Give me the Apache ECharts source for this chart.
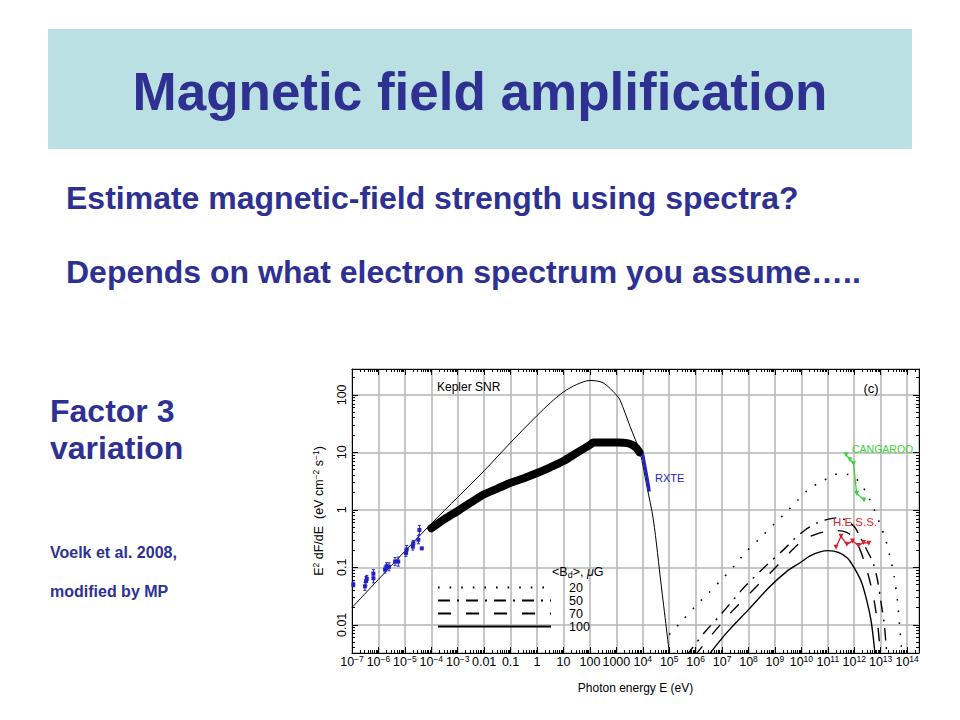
<!DOCTYPE html>
<html><head><meta charset="utf-8">
<script src="https://cdn.jsdelivr.net/npm/echarts@6/dist/echarts.min.js"></script>
<style>html,body{margin:0;padding:0;background:#fff}#c{width:960px;height:720px}</style>
</head><body><div id="c"></div>
<script>
// ---------- values (log10 of E [eV] and of E^2 dF/dE [eV cm^-2 s^-1]) ----------
const xMinExp = -7;
const xTickText = ['10^-7','10^-6','10^-5','10^-4','10^-3','0.01','0.1','1','10','100','1000',
  '10^4','10^5','10^6','10^7','10^8','10^9','10^10','10^11','10^12','10^13','10^14'];
const yMinExp = -2;
const yTickText = ['0.01','0.1','1','10','100'];

// synchrotron model (thin solid)
const syncLogE = [-7, -6, -5, -4, -3, -2, -1, 0, 0.5, 1, 1.5, 2, 2.5, 3.0, 3.14, 3.52, 3.9, 4.15, 4.4, 4.7, 5.02];
const syncLogF = [-1.70, -1.21, -0.72, -0.24, 0.22, 0.68, 1.17, 1.64, 1.86, 2.05, 2.18, 2.25, 2.21, 2.0, 1.91, 1.45, 0.99, 0.42, -0.17, -1.32, -2.55];

// thick black band (X-ray spectrum)
const bandLogE = [-4, -3.5, -3, -2.5, -2, -1.5, -1, -0.5, 0, 0.5, 1, 1.5, 2, 2.13, 2.6, 3.1, 3.4, 3.6, 3.75, 3.88];
const bandLogF = [-0.32, -0.16, -0.02, 0.13, 0.27, 0.37, 0.47, 0.55, 0.64, 0.74, 0.85, 0.99, 1.13, 1.17, 1.17, 1.17, 1.16, 1.13, 1.08, 1.0];

// radio points with error bars (dex)
const radioLogE = [-6.95, -6.51, -6.47, -6.44, -6.19, -6.19, -5.75, -5.69, -5.60, -5.37, -5.25, -4.96, -4.93, -4.70, -4.68, -4.49, -4.45, -4.36];
const radioLogF = [-1.30, -1.33, -1.24, -1.20, -1.19, -1.11, -1.04, -0.98, -0.99, -0.90, -0.90, -0.75, -0.69, -0.64, -0.58, -0.52, -0.35, -0.67];
const radioErr  = [0.04, 0.07, 0.08, 0.06, 0.08, 0.07, 0.06, 0.06, 0.07, 0.07, 0.08, 0.06, 0.07, 0.06, 0.05, 0.07, 0.08, 0];

// RXTE
const rxteLogE = [4.0, 4.1, 4.18, 4.25];
const rxteLogF = [0.97, 0.72, 0.52, 0.32];

// CANGAROO
const cangLogE = [11.69, 11.84, 11.97, 12.09, 12.37];
const cangLogF = [0.96, 0.87, 0.81, 0.29, 0.17];

// H.E.S.S.
const hessLogE = [11.31, 11.50, 11.72, 11.94, 12.16, 12.35, 12.55];
const hessLogF = [-0.65, -0.46, -0.60, -0.54, -0.62, -0.57, -0.58];

// IC models for <B_d> = 20, 50, 70, 100 microGauss
const ic20LogE = [5.0, 5.47, 5.98, 6.48, 6.99, 7.43, 7.93, 8.44, 8.94, 9.45, 9.85, 10.33, 10.77, 11.15, 11.46, 11.81, 12.05, 12.28, 12.5, 12.76, 12.98, 13.17, 13.35, 13.51, 13.63, 13.72, 13.78, 13.82];
const ic20LogF = [-2.17, -1.94, -1.68, -1.45, -1.21, -0.99, -0.72, -0.49, -0.26, -0.03, 0.16, 0.38, 0.49, 0.59, 0.63, 0.61, 0.55, 0.43, 0.26, 0.0, -0.26, -0.49, -0.81, -1.16, -1.57, -2.03, -2.38, -2.6];
const ic50LogE = [5.63, 6.36, 6.99, 7.87, 8.69, 9.38, 9.75, 10.14, 10.58, 10.96, 11.33, 11.59, 12.0, 12.25, 12.5, 12.72, 12.88, 13.0, 13.13, 13.21, 13.24];
const ic50LogF = [-2.55, -2.12, -1.80, -1.33, -0.96, -0.67, -0.50, -0.35, -0.23, -0.17, -0.14, -0.16, -0.29, -0.50, -0.72, -0.93, -1.22, -1.57, -1.97, -2.38, -2.55];
const ic70LogE = [5.95, 6.67, 7.43, 8.31, 8.94, 9.65, 10.08, 10.52, 10.9, 11.33, 11.71, 11.98, 12.2, 12.4, 12.58, 12.75, 12.88, 12.97, 13.0];
const ic70LogF = [-2.55, -2.14, -1.74, -1.33, -1.04, -0.70, -0.52, -0.43, -0.38, -0.36, -0.39, -0.49, -0.67, -0.93, -1.22, -1.57, -1.97, -2.38, -2.55];
const ic100LogE = [6.45, 7.17, 7.99, 8.82, 9.45, 9.95, 10.33, 10.71, 11.02, 11.4, 11.75, 12.0, 12.27, 12.47, 12.63, 12.73, 12.79];
const ic100LogF = [-2.55, -2.14, -1.74, -1.33, -1.07, -0.92, -0.80, -0.73, -0.71, -0.74, -0.84, -1.01, -1.25, -1.57, -1.91, -2.26, -2.55];

const legendNames = ['20', '50', '70', '100'];

// ---------- build ----------
const P = v => Math.pow(10, v);
const pts = (le, lf) => le.map((e, i) => [P(e), P(lf[i])]);
const FONT = '"Liberation Sans", Arial, Helvetica, sans-serif';
const NAVY = '#2e3192';
const BLUE = '#2323c4';
const GREEN = '#3ad23a';
const RED = '#d81f2b';

function richLabel(s) {
  const m = s.match(/^10\^(-?\d+)$/);
  if (!m) return '{p|' + s + '}';
  return '{b|10}{s|' + m[1].replace('-', '\u2212') + '}';
}
function expIndex(v, minExp, n) {
  const l = Math.log10(v); const k = Math.round(l);
  if (Math.abs(l - k) > 1e-6) return -1;
  const i = k - minExp; return (i >= 0 && i < n) ? i : -1;
}

const tickCommon = {
  axisLine: { show: true, onZero: false, lineStyle: { color: '#000', width: 1 } },
  axisTick: { show: true, inside: true, length: 6, lineStyle: { color: '#000', width: 1 } },
  minorTick: { show: true, splitNumber: 9, length: 3, lineStyle: { color: '#000', width: 1 } },
};
const gridLine = { show: true, lineStyle: { color: '#b4b4b4', width: 1.5 } };

const xRange = { type: 'log', logBase: 10, min: P(-7), max: P(14.45), interval: 1 };
const yRange = { type: 'log', logBase: 10, min: P(-2.49), max: P(2.45) };

const option = {
  animation: false,
  backgroundColor: '#fff',
  grid: { left: 352, top: 369, width: 567, height: 284 },
  xAxis: [
    Object.assign({}, xRange, tickCommon, {
      position: 'bottom',
      splitLine: gridLine,
      name: 'Photon energy E (eV)', nameLocation: 'middle', nameGap: 29,
      nameTextStyle: { fontFamily: FONT, fontSize: 12, color: '#000' },
      axisLabel: {
        margin: 1, color: '#000', fontFamily: FONT,
        formatter: v => { const i = expIndex(v, xMinExp, xTickText.length); return i < 0 ? '' : richLabel(xTickText[i]); },
        rich: {
          b: { fontSize: 12.5, lineHeight: 14, verticalAlign: 'bottom', fontFamily: FONT, color: '#000' },
          p: { fontSize: 12.5, lineHeight: 14, padding: [3.5, 0, 0, 0], verticalAlign: 'bottom', fontFamily: FONT, color: '#000' },
          s: { fontSize: 8.5, lineHeight: 8.5, padding: [0, 0, 9, 0], verticalAlign: 'top', fontFamily: FONT, color: '#000' }
        }
      }
    }),
    Object.assign({}, xRange, tickCommon, {
      position: 'top', axisLabel: { show: false }, splitLine: { show: false }
    })
  ],
  yAxis: [
    Object.assign({}, yRange, tickCommon, {
      position: 'left',
      splitLine: gridLine,
      name: '{b|E}{s|2}{b| dF/dE  (eV cm}{s|\u22122}{b| s}{s|\u22121}{b|)}',
      nameLocation: 'middle', nameRotate: 90, nameGap: 19,
      nameTextStyle: {
        fontFamily: FONT, fontSize: 12, color: '#000',
        rich: {
          b: { fontSize: 12.5, lineHeight: 14, verticalAlign: 'bottom', fontFamily: FONT, color: '#000' },
          s: { fontSize: 8.5, lineHeight: 8.5, padding: [0, 0, 7, 0], verticalAlign: 'top', fontFamily: FONT, color: '#000' }
        }
      },
      axisLabel: {
        rotate: 90, margin: 4, color: '#000', fontFamily: FONT, fontSize: 12.5,
        formatter: v => { const i = expIndex(v, yMinExp, yTickText.length); return i < 0 ? '' : yTickText[i]; }
      }
    }),
    Object.assign({}, yRange, tickCommon, {
      position: 'right', axisLabel: { show: false }, splitLine: { show: false }
    })
  ],
  legend: {
    data: legendNames,
    orient: 'vertical', left: 437, top: 581,
    itemWidth: 113, itemHeight: 14, itemGap: 0, padding: 0,
    selectedMode: false,
    itemStyle: { opacity: 0 },
    textStyle: { fontFamily: FONT, fontSize: 12.5, color: '#000', padding: [0, 0, 0, 13] }
  },
  series: [
    { type: 'line', name: 'sync', data: pts(syncLogE, syncLogF), symbol: 'none', smooth: 0.3,
      lineStyle: { color: '#000', width: 1 }, z: 3 },
    { type: 'line', name: 'band', data: pts(bandLogE, bandLogF), symbol: 'none', smooth: 0.3,
      lineStyle: { color: '#000', width: 8, cap: 'round', join: 'round' }, z: 4 },
    { type: 'custom', name: 'radio',
      data: radioLogE.map((e, i) => [P(e), P(radioLogF[i]), P(radioLogF[i] - radioErr[i]), P(radioLogF[i] + radioErr[i])]),
      encode: { x: 0, y: 1 }, z: 5,
      renderItem: (params, api) => {
        const p = api.coord([api.value(0), api.value(1)]);
        const lo = api.coord([api.value(0), api.value(2)]);
        const hi = api.coord([api.value(0), api.value(3)]);
        const st = { stroke: BLUE, lineWidth: 1 };
        const ch = [{ type: 'rect', shape: { x: p[0] - 2, y: p[1] - 2, width: 4, height: 4 }, style: { fill: BLUE } }];
        if (Math.abs(hi[1] - lo[1]) > 0.5) {
          ch.push({ type: 'line', shape: { x1: p[0], y1: lo[1], x2: p[0], y2: hi[1] }, style: st });
          ch.push({ type: 'line', shape: { x1: p[0] - 1.5, y1: lo[1], x2: p[0] + 1.5, y2: lo[1] }, style: st });
          ch.push({ type: 'line', shape: { x1: p[0] - 1.5, y1: hi[1], x2: p[0] + 1.5, y2: hi[1] }, style: st });
        }
        return { type: 'group', children: ch };
      }
    },
    { type: 'line', name: 'RXTE', data: pts(rxteLogE, rxteLogF), symbol: 'none',
      lineStyle: { color: BLUE, width: 3 }, z: 5 },
    { type: 'line', name: 'CANGAROO', data: pts(cangLogE, cangLogF), symbol: 'triangle', symbolRotate: 180, symbolSize: 5,
      itemStyle: { color: GREEN }, lineStyle: { color: GREEN, width: 1.3 }, z: 5 },
    { type: 'line', name: 'H.E.S.S.', data: pts(hessLogE, hessLogF), symbol: 'triangle', symbolRotate: 180, symbolSize: 5,
      itemStyle: { color: RED }, lineStyle: { color: RED, width: 1.3 }, z: 5 },
    { type: 'line', name: '20', data: pts(ic20LogE, ic20LogF), symbol: 'none', smooth: 0.3, itemStyle: { color: '#000' },
      lineStyle: { color: '#000', width: 1.6, type: [1.6, 10] } },
    { type: 'line', name: '50', data: pts(ic50LogE, ic50LogF), symbol: 'none', smooth: 0.3, itemStyle: { color: '#000' },
      lineStyle: { color: '#000', width: 1.4, type: [12, 7, 2, 7] } },
    { type: 'line', name: '70', data: pts(ic70LogE, ic70LogF), symbol: 'none', smooth: 0.3, itemStyle: { color: '#000' },
      lineStyle: { color: '#000', width: 1.4, type: [13, 15] } },
    { type: 'line', name: '100', data: pts(ic100LogE, ic100LogF), symbol: 'none', smooth: 0.3, itemStyle: { color: '#000' },
      lineStyle: { color: '#000', width: 1.4 } }
  ],
  graphic: [
    { type: 'rect', z: -10, shape: { x: 48, y: 29, width: 864, height: 120 }, style: { fill: '#bbe0e3' } },
    { type: 'text', x: 480, y: 91, style: { text: 'Magnetic field amplification', fill: NAVY, font: 'bold 53px ' + FONT, textAlign: 'center', textVerticalAlign: 'middle' } },
    { type: 'text', x: 66, y: 198, style: { text: 'Estimate magnetic-field strength using spectra?', fill: NAVY, font: 'bold 32px ' + FONT, textAlign: 'left', textVerticalAlign: 'middle' } },
    { type: 'text', x: 66, y: 272, style: { text: 'Depends on what electron spectrum you assume\u2026..', fill: NAVY, font: 'bold 32px ' + FONT, textAlign: 'left', textVerticalAlign: 'middle' } },
    { type: 'text', x: 50, y: 411, style: { text: 'Factor 3', fill: NAVY, font: 'bold 32px ' + FONT, textAlign: 'left', textVerticalAlign: 'middle' } },
    { type: 'text', x: 50, y: 448, style: { text: 'variation', fill: NAVY, font: 'bold 32px ' + FONT, textAlign: 'left', textVerticalAlign: 'middle' } },
    { type: 'text', x: 50, y: 552, style: { text: 'Voelk et al. 2008,', fill: NAVY, font: 'bold 16px ' + FONT, textAlign: 'left', textVerticalAlign: 'middle' } },
    { type: 'text', x: 50, y: 591, style: { text: 'modified by MP', fill: NAVY, font: 'bold 16px ' + FONT, textAlign: 'left', textVerticalAlign: 'middle' } },
    { type: 'text', x: 437, y: 387, z: 10, style: { text: 'Kepler SNR', fill: '#000', font: '12px ' + FONT, textAlign: 'left', textVerticalAlign: 'middle' } },
    { type: 'text', x: 871, y: 388, z: 10, style: { text: '(c)', fill: '#000', font: '13px ' + FONT, textAlign: 'center', textVerticalAlign: 'middle' } },
    { type: 'text', x: 655, y: 478, z: 10, style: { text: 'RXTE', fill: BLUE, font: '11px ' + FONT, textAlign: 'left', textVerticalAlign: 'middle' } },
    { type: 'text', x: 852, y: 449, z: 10, style: { text: 'CANGAROO', fill: GREEN, font: '10.5px ' + FONT, textAlign: 'left', textVerticalAlign: 'middle' } },
    { type: 'text', x: 833, y: 522, z: 10, style: { text: 'H.E.S.S.', fill: RED, font: '11.5px ' + FONT, textAlign: 'left', textVerticalAlign: 'middle' } },
    { type: 'text', x: 552, y: 572, z: 10, style: {
        text: '{a|<B}{d|d}{a|>, }{m|\u03bc}{a|G}', textAlign: 'left', textVerticalAlign: 'middle',
        rich: {
          a: { fontSize: 12.5, lineHeight: 14, verticalAlign: 'top', fontFamily: FONT, fill: '#000', color: '#000' },
          d: { fontSize: 9, lineHeight: 9, padding: [5, 0, 0, 0], verticalAlign: 'top', fontFamily: FONT, fill: '#000', color: '#000' },
          m: { fontSize: 12.5, lineHeight: 14, verticalAlign: 'top', fontFamily: FONT, fontStyle: 'italic', fill: '#000', color: '#000' }
        } } }
  ]
};

const chart = echarts.init(document.getElementById('c'), null, { renderer: 'svg', width: 960, height: 720 });
chart.setOption(option);
</script>
</body></html>
